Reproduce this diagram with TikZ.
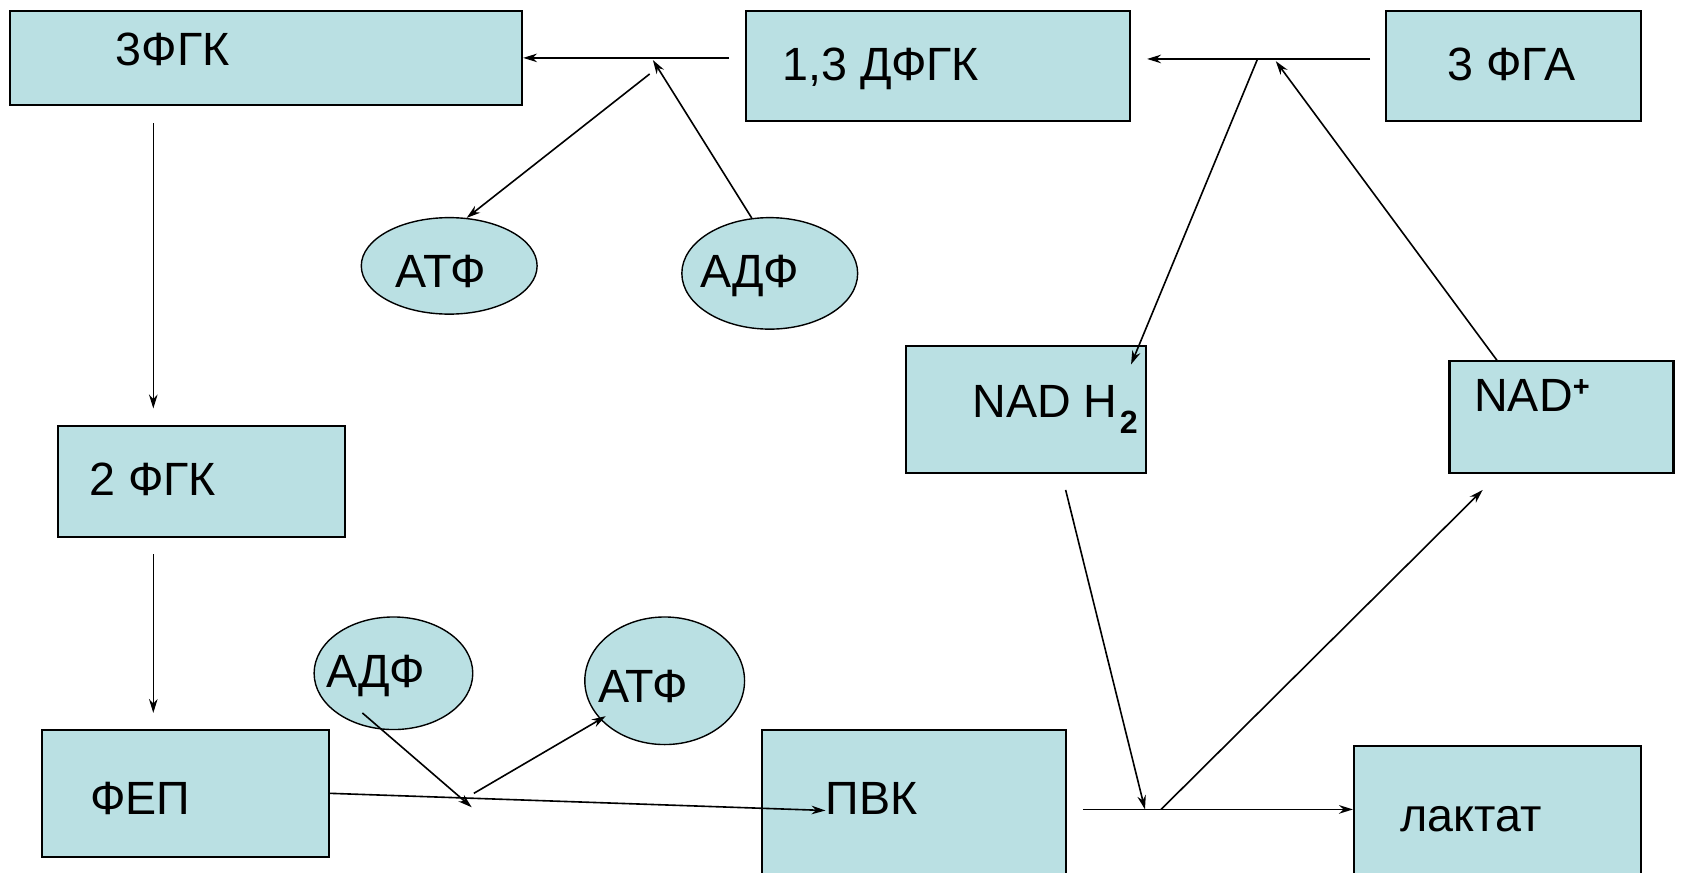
\documentclass[tikz,border=0pt]{standalone}
\usepackage{fontspec}
\setmainfont{Liberation Sans}
\usetikzlibrary{arrows.meta,shapes.geometric}

\definecolor{boxfill}{RGB}{186,224,227}
\tikzset{
  box/.style={draw, line width=2pt, fill=boxfill, inner sep=0pt},
  oval/.style={draw, line width=1.3pt, fill=boxfill, ellipse, inner sep=0pt},
  lbl/.style={inner sep=0pt, anchor=base west, font=\fontsize{43.5}{50}\selectfont},
  arr/.style={line width=1.5pt, -{Stealth[length=13pt,width=8pt]}}
}

\begin{document}
\begin{tikzpicture}[x=1pt,y=-1pt]
		\path[use as bounding box, clip] (0,0) rectangle (1568,814);

		% boxes
		\node[box, minimum width=478pt, minimum height=88pt] (b3fgk) at (248,54) {};
		\node[box, minimum width=358pt, minimum height=103pt] (bdfgk) at (875,61.5) {};
		\node[box, minimum width=238pt, minimum height=103pt] (bfga) at (1412,61.5) {};
		\node[box, minimum width=224pt, minimum height=118pt] (bnadh) at (957,382) {};
		\node[box, minimum width=209pt, minimum height=104pt] (bnad) at (1456.5,389) {};
		\node[box, minimum width=268pt, minimum height=104pt] (b2fgk) at (188,449) {};
		\node[box, minimum width=268pt, minimum height=118pt] (bfep) at (173,740) {};
		\node[box, minimum width=283pt, minimum height=149pt] (bpvk) at (852.5,755.5) {};
		\node[box, minimum width=268pt, minimum height=134pt] (blakt) at (1397,763) {};

		% ovals
		\node[oval, minimum width=164pt, minimum height=90pt] (atf1) at (419,248) {};
		\node[oval, minimum width=164pt, minimum height=104pt] (adf1) at (718,255) {};
		\node[oval, minimum width=148pt, minimum height=105pt] (adf2) at (367,628) {};
		\node[oval, minimum width=149pt, minimum height=119pt] (atf2) at (620,635) {};

		% labels
		\node[lbl] (t3fgk) at (108,61) {3ФГК};
		\node[lbl] (tdfgk) at (730,75) {1,3 ДФГК};
		\node[lbl] (tfga) at (1350,75) {3 ФГА};
		\node[lbl] (tnadh) at (907,389) {NAD H\hspace{2pt}\raisebox{-15pt}{\fontsize{30}{30}\selectfont\bfseries 2}};
		\node[lbl] (tnad) at (1375,384) {NAD\raisebox{14pt}{\fontsize{27}{27}\selectfont\bfseries +}};
		\node[lbl] (t2fgk) at (83,462) {2 ФГК};
		\node[lbl] (tfep) at (84,760) {ФЕП};
		\node[lbl] (tpvk) at (770,760) {ПВК};
		\node[lbl] (tlakt) at (1306,776) {лактат};
		\node[lbl] (tatf1) at (369,268) {АТФ};
		\node[lbl] (tadf1) at (653,268) {АДФ};
		\node[lbl] (tadf2) at (304,641) {АДФ};
		\node[lbl] (tatf2) at (558,655) {АТФ};

		% junctions and free ends
		\coordinate (c1) at (680,54);
		\coordinate (j1) at (609,56);
		\coordinate (s1) at (606,69);
		\coordinate (c2) at (1278,55);
		\coordinate (c3) at (1070,55);
		\coordinate (j2) at (1173,55);
		\coordinate (j3) at (1190,57);
		\coordinate (n1) at (1055,340);
		\coordinate (n2) at (1397,337);
		\coordinate (d1) at (143,115);
		\coordinate (d2) at (143,381);
		\coordinate (d3) at (143,517);
		\coordinate (d4) at (143,665);
		\coordinate (p1) at (770,756);
		\coordinate (a1) at (338,665);
		\coordinate (a2) at (440,753);
		\coordinate (a3) at (442,740);
		\coordinate (a4) at (565,668);
		\coordinate (q1) at (1010,755);
		\coordinate (r1) at (994,457);
		\coordinate (r2) at (1068,755);
		\coordinate (r3) at (1083,755);
		\coordinate (r4) at (1383,457);

		% connectors
		\draw[arr] (c1) -- (b3fgk.east);
		\draw[arr] (s1) -- (atf1.70);
		\draw[arr] (adf1.108) -- (j1);
		\draw[arr] (c2) -- (c3);
		\draw[arr] (j2) -- (n1);
		\draw[arr] (n2) -- (j3);
		\draw[arr] (d1) -- (d2);
		\draw[arr] (d3) -- (d4);
		\draw[arr] (bfep.east) -- (p1);
		\draw[arr] (a1) -- (a2);
		\draw[arr] (a3) -- (a4);
		\draw[arr] (q1) -- (q1 -| blakt.west);
		\draw[arr] (r1) -- (r2);
		\draw[arr] (r3) -- (r4);
	\end{tikzpicture}
\end{document}
